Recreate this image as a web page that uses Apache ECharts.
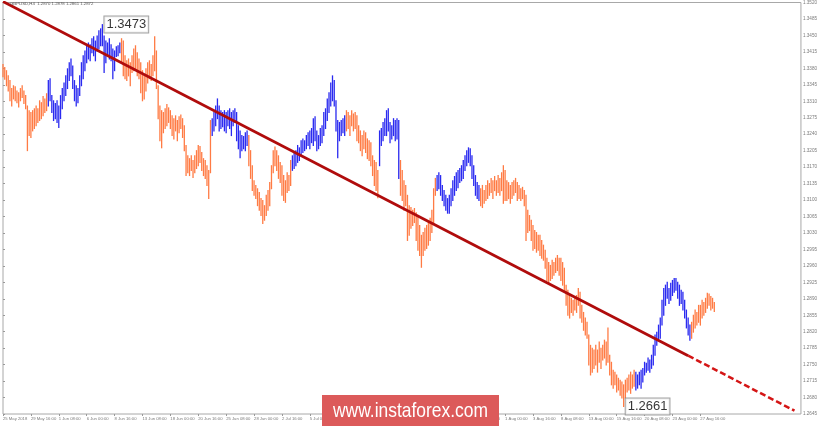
<!DOCTYPE html>
<html><head><meta charset="utf-8">
<script src="https://cdn.jsdelivr.net/npm/echarts@6/dist/echarts.min.js"></script>
<style>html,body{margin:0;padding:0;background:#fff}#c{width:820px;height:426px}</style>
</head><body><div id="c"></div>
<script>
// x-axis tick labels, one every 16 H4 bars
const dateLabels = ['25 May 2018','29 May 16:00','1 Jun 08:00','6 Jun 00:00','8 Jun 16:00','13 Jun 08:00','18 Jun 00:00','20 Jun 16:00','25 Jun 08:00','28 Jun 00:00','2 Jul 16:00','5 Jul 08:00','10 Jul 00:00','12 Jul 16:00','17 Jul 08:00','20 Jul 00:00','24 Jul 16:00','27 Jul 08:00','1 Aug 00:00','3 Aug 16:00','8 Aug 08:00','13 Aug 00:00','15 Aug 16:00','20 Aug 08:00','23 Aug 00:00','27 Aug 16:00'];
const barsPerLabel = 16;

// H4 bar highs
const highs = [
1.3388,1.3382,1.3375,1.3364,1.3354,1.3337,1.3343,1.3341,1.3332,1.3328,1.3337,1.3343,1.3332,1.3322,1.3300,1.3290,
1.3286,1.3290,1.3294,1.3300,1.3294,1.3311,1.3307,1.3320,1.3315,1.3326,1.3354,1.3358,1.3322,1.3311,1.3305,1.3311,
1.3300,1.3322,1.3337,1.3349,1.3364,1.3379,1.3392,1.3400,1.3385,1.3354,1.3343,1.3337,1.3364,1.3392,1.3407,1.3417,
1.3428,1.3434,1.3430,1.3443,1.3447,1.3438,1.3449,1.3460,1.3464,1.3473,1.3449,1.3438,1.3434,1.3443,1.3430,1.3421,
1.3417,1.3426,1.3428,1.3434,1.3443,1.3438,1.3407,1.3396,1.3400,1.3392,1.3407,1.3421,1.3428,1.3413,1.3400,1.3392,
1.3375,1.3364,1.3379,1.3392,1.3396,1.3388,1.3407,1.3447,1.3417,1.3343,1.3300,1.3290,1.3286,1.3294,1.3303,1.3296,
1.3290,1.3279,1.3273,1.3279,1.3269,1.3277,1.3281,1.3273,1.3258,1.3216,1.3194,1.3188,1.3194,1.3184,1.3194,1.3205,
1.3216,1.3214,1.3201,1.3188,1.3184,1.3173,1.3163,1.3269,1.3273,1.3286,1.3300,1.3315,1.3300,1.3290,1.3286,1.3290,
1.3286,1.3290,1.3294,1.3286,1.3290,1.3294,1.3286,1.3258,1.3247,1.3237,1.3235,1.3243,1.3247,1.3237,1.3205,1.3173,
1.3141,1.3131,1.3124,1.3116,1.3103,1.3099,1.3088,1.3110,1.3120,1.3137,1.3173,1.3205,1.3213,1.3205,1.3194,1.3180,
1.3173,1.3152,1.3141,1.3158,1.3152,1.3184,1.3194,1.3201,1.3205,1.3216,1.3211,1.3226,1.3230,1.3226,1.3237,1.3243,
1.3247,1.3252,1.3273,1.3277,1.3247,1.3237,1.3252,1.3258,1.3286,1.3294,1.3315,1.3328,1.3349,1.3364,1.3354,1.3311,
1.3269,1.3265,1.3269,1.3273,1.3279,1.3290,1.3286,1.3279,1.3290,1.3283,1.3286,1.3279,1.3258,1.3247,1.3237,1.3247,
1.3243,1.3230,1.3226,1.3222,1.3194,1.3184,1.3180,1.3163,1.3247,1.3252,1.3265,1.3273,1.3290,1.3294,1.3265,1.3258,
1.3273,1.3269,1.3273,1.3269,1.3184,1.3163,1.3141,1.3131,1.3110,1.3088,1.3084,1.3078,1.3082,1.3073,1.3067,1.3046,
1.3025,1.3031,1.3040,1.3046,1.3052,1.3061,1.3078,1.3124,1.3146,1.3152,1.3158,1.3152,1.3131,1.3120,1.3110,1.3103,
1.3110,1.3124,1.3141,1.3150,1.3158,1.3163,1.3167,1.3173,1.3184,1.3194,1.3205,1.3211,1.3209,1.3194,1.3173,1.3152,
1.3137,1.3131,1.3124,1.3131,1.3120,1.3131,1.3141,1.3135,1.3146,1.3141,1.3150,1.3141,1.3152,1.3146,1.3158,1.3173,
1.3163,1.3141,1.3137,1.3131,1.3137,1.3141,1.3146,1.3137,1.3131,1.3124,1.3127,1.3120,1.3110,1.3078,1.3067,1.3057,
1.3046,1.3035,1.3031,1.3025,1.3025,1.3014,1.3004,1.2993,1.2976,1.2967,1.2961,1.2972,1.2967,1.2976,1.2982,1.2976,
1.2976,1.2967,1.2955,1.2919,1.2908,1.2897,1.2891,1.2887,1.2891,1.2897,1.2912,1.2904,1.2876,1.2861,1.2849,1.2840,
1.2813,1.2791,1.2785,1.2781,1.2791,1.2781,1.2798,1.2785,1.2791,1.2802,1.2798,1.2828,1.2770,1.2755,1.2738,1.2734,
1.2728,1.2721,1.2717,1.2713,1.2707,1.2717,1.2721,1.2728,1.2734,1.2728,1.2738,1.2734,1.2728,1.2734,1.2738,1.2742,
1.2755,1.2753,1.2764,1.2760,1.2770,1.2791,1.2813,1.2819,1.2834,1.2849,1.2887,1.2912,1.2919,1.2925,1.2912,1.2923,
1.2929,1.2933,1.2933,1.2925,1.2919,1.2908,1.2904,1.2887,1.2866,1.2849,1.2834,1.2840,1.2855,1.2866,1.2861,1.2876,
1.2876,1.2887,1.2882,1.2891,1.2902,1.2900,1.2895,1.2891,1.2882
];

// H4 bar lows
const lows = [
1.3362,1.3357,1.3343,1.3332,1.3311,1.3300,1.3315,1.3311,1.3307,1.3298,1.3311,1.3318,1.3305,1.3294,1.3205,1.3237,
1.3233,1.3247,1.3252,1.3258,1.3265,1.3269,1.3273,1.3279,1.3286,1.3290,1.3300,1.3311,1.3286,1.3269,1.3273,1.3265,
1.3254,1.3273,1.3294,1.3311,1.3322,1.3337,1.3354,1.3364,1.3337,1.3311,1.3300,1.3307,1.3322,1.3343,1.3358,1.3375,
1.3392,1.3400,1.3396,1.3413,1.3407,1.3396,1.3417,1.3421,1.3428,1.3428,1.3371,1.3392,1.3407,1.3400,1.3396,1.3358,
1.3375,1.3405,1.3407,1.3413,1.3392,1.3364,1.3358,1.3354,1.3364,1.3343,1.3371,1.3375,1.3379,1.3364,1.3358,1.3328,
1.3311,1.3315,1.3332,1.3349,1.3358,1.3354,1.3364,1.3375,1.3337,1.3273,1.3226,1.3211,1.3243,1.3252,1.3258,1.3265,
1.3252,1.3237,1.3230,1.3247,1.3226,1.3243,1.3252,1.3233,1.3205,1.3152,1.3158,1.3152,1.3163,1.3148,1.3158,1.3167,
1.3173,1.3180,1.3163,1.3152,1.3146,1.3131,1.3103,1.3158,1.3237,1.3247,1.3258,1.3273,1.3247,1.3252,1.3256,1.3247,
1.3243,1.3258,1.3252,1.3237,1.3258,1.3265,1.3226,1.3209,1.3190,1.3205,1.3209,1.3205,1.3216,1.3173,1.3146,1.3120,
1.3110,1.3103,1.3088,1.3078,1.3067,1.3050,1.3057,1.3067,1.3078,1.3088,1.3124,1.3158,1.3173,1.3163,1.3146,1.3137,
1.3110,1.3099,1.3095,1.3116,1.3120,1.3131,1.3163,1.3167,1.3173,1.3180,1.3184,1.3194,1.3201,1.3205,1.3209,1.3216,
1.3209,1.3222,1.3216,1.3226,1.3205,1.3209,1.3216,1.3222,1.3237,1.3252,1.3269,1.3286,1.3300,1.3311,1.3300,1.3247,
1.3190,1.3226,1.3237,1.3243,1.3237,1.3247,1.3252,1.3237,1.3258,1.3247,1.3252,1.3226,1.3222,1.3205,1.3194,1.3209,
1.3201,1.3188,1.3184,1.3173,1.3152,1.3131,1.3120,1.3105,1.3173,1.3216,1.3226,1.3237,1.3237,1.3247,1.3222,1.3230,
1.3237,1.3226,1.3230,1.3146,1.3110,1.3099,1.3078,1.3088,1.3014,1.3025,1.3040,1.3046,1.3052,1.3014,1.2993,1.2982,
1.2957,1.2982,1.2993,1.2997,1.3004,1.3014,1.3031,1.3052,1.3110,1.3120,1.3124,1.3110,1.3099,1.3088,1.3078,1.3072,
1.3072,1.3088,1.3099,1.3110,1.3120,1.3126,1.3137,1.3141,1.3146,1.3163,1.3173,1.3180,1.3173,1.3146,1.3131,1.3110,
1.3103,1.3099,1.3088,1.3084,1.3093,1.3099,1.3103,1.3110,1.3116,1.3103,1.3120,1.3110,1.3116,1.3110,1.3120,1.3093,
1.3099,1.3099,1.3103,1.3093,1.3103,1.3110,1.3116,1.3099,1.3103,1.3099,1.3103,1.3088,1.3014,1.3031,1.3035,1.3014,
1.2993,1.2997,1.2989,1.2993,1.2982,1.2976,1.2972,1.2955,1.2929,1.2923,1.2929,1.2933,1.2940,1.2946,1.2950,1.2940,
1.2929,1.2919,1.2908,1.2876,1.2855,1.2849,1.2861,1.2855,1.2866,1.2861,1.2876,1.2849,1.2840,1.2823,1.2813,1.2806,
1.2749,1.2728,1.2734,1.2742,1.2749,1.2734,1.2755,1.2742,1.2760,1.2764,1.2749,1.2755,1.2728,1.2707,1.2700,1.2707,
1.2692,1.2696,1.2685,1.2679,1.2661,1.2679,1.2692,1.2696,1.2689,1.2700,1.2704,1.2696,1.2700,1.2707,1.2700,1.2713,
1.2728,1.2734,1.2738,1.2734,1.2742,1.2749,1.2770,1.2791,1.2802,1.2806,1.2834,1.2855,1.2876,1.2891,1.2880,1.2887,
1.2897,1.2904,1.2908,1.2891,1.2876,1.2880,1.2866,1.2849,1.2828,1.2813,1.2802,1.2806,1.2819,1.2828,1.2834,1.2840,
1.2834,1.2849,1.2855,1.2861,1.2870,1.2876,1.2866,1.2870,1.2863
];

// bar index ranges of upward waves (the rest are downward waves)
const upWaves = [[26,67],[120,140],[166,196],[216,227],[249,273],[363,394]];
// labelled extremes [bar index, price]
const extremes = [[57,1.3473],[356,1.2661]];
// trend line and its projected extension [bar index, price]
const trendLine = [[0,1.3522],[393,1.2769]];
const trendExtension = [[393,1.2769],[454,1.2652]];
const lastPrice = 1.2873;
const header = 'GBPUSD,H4  1.2870 1.2878 1.2861 1.2872';

const isUp = i => upWaves.some(r => i >= r[0] && i <= r[1]);
const upData = [], downData = [];
highs.forEach((h, i) => { (isUp(i) ? upData : downData).push([i, lows[i], h]); });
const labelTicks = dateLabels.map((_, k) => k * barsPerLabel);

function barRenderer(color) {
  return function (params, api) {
    const a = api.coord([api.value(0), api.value(1)]);
    const b = api.coord([api.value(0), api.value(2)]);
    return { type: 'line', shape: { x1: a[0], y1: a[1] + 0.5, x2: b[0], y2: b[1] - 0.5 },
             style: { stroke: color, lineWidth: 1.3 } };
  };
}

const chart = echarts.init(document.getElementById('c'), null, { renderer: 'canvas' });
chart.setOption({
  animation: false,
  backgroundColor: '#fff',
  title: { text: header, left: 10, top: 2, padding: 0,
           textStyle: { fontSize: 4.3, color: '#555', fontWeight: 'normal', fontFamily: 'Liberation Sans' } },
  grid: { left: 2, right: 17, top: 1.5, bottom: 12, show: true, borderColor: '#a8a8a8', borderWidth: 1 },
  xAxis: {
    type: 'value', min: 0, max: 457.7, interval: barsPerLabel,
    splitLine: { show: false }, axisLine: { show: false },
    axisTick: { show: true, length: 2, lineStyle: { color: '#999' }, customValues: labelTicks },
    axisLabel: {
      fontSize: 4.2, color: '#7a7a7a', align: 'left', margin: 3, fontFamily: 'Liberation Sans',
      customValues: labelTicks,
      formatter: v => { const k = Math.round(v / barsPerLabel); return (k >= 0 && k < dateLabels.length) ? dateLabels[k] : ''; }
    }
  },
  yAxis: {
    type: 'value', position: 'right', min: 1.2645, max: 1.3520, interval: 0.0035,
    splitLine: { show: false }, axisLine: { show: false },
    axisTick: { show: true, length: 2, lineStyle: { color: '#999' } },
    axisLabel: { fontSize: 4.6, color: '#7a7a7a', margin: 2, fontFamily: 'Liberation Sans', formatter: v => v.toFixed(4) }
  },
  graphic: [
    { type: 'rect', shape: { x: 322, y: 395, width: 177, height: 31 }, style: { fill: '#dc5a5a' }, z: 100 },
    { type: 'text', x: 410.5, y: 411, scaleX: 0.83, z: 101,
      style: { text: 'www.instaforex.com', fill: '#fff', fontSize: 21, fontFamily: 'Liberation Sans', align: 'center', verticalAlign: 'middle' } }
  ],
  series: [
    { name: 'down', type: 'custom', renderItem: barRenderer('#ff7b44'), data: downData, encode: { x: 0, y: [1, 2] }, z: 2 },
    { name: 'up', type: 'custom', renderItem: barRenderer('#2a2af0'), data: upData, encode: { x: 0, y: [1, 2] }, z: 2 },
    { name: 'trend', type: 'line', data: trendLine, symbol: 'none', clip: true, z: 5,
      lineStyle: { color: '#b00c0c', width: 2.8 },
      markLine: { silent: true, symbol: ['none', 'triangle'], symbolSize: [0, 11],
        label: { show: false },
        lineStyle: { color: '#d41515', width: 2.5, type: [6, 3] },
        data: [[{ coord: trendExtension[0] }, { coord: trendExtension[1] }]] } },
    { name: 'extremes', type: 'scatter', data: extremes, symbolSize: 0.1, z: 8,
      itemStyle: { color: 'rgba(0,0,0,0)' },
      label: { show: true, position: 'right', distance: 2, formatter: p => p.value[1].toFixed(4),
               fontSize: 13, fontFamily: 'Liberation Sans', color: '#000', backgroundColor: '#fff',
               borderColor: '#8a8a8a', borderWidth: 1, padding: [2, 2, 1, 2] },
      markLine: { silent: true, symbol: 'none', lineStyle: { opacity: 0 },
        label: { show: true, position: 'end', distance: 1, formatter: () => lastPrice.toFixed(4),
                 fontSize: 4.6, fontFamily: 'Liberation Sans', color: '#fff', backgroundColor: '#6a6a78', padding: [1, 1] },
        data: [{ yAxis: lastPrice }] } }
  ]
});
</script></body></html>
